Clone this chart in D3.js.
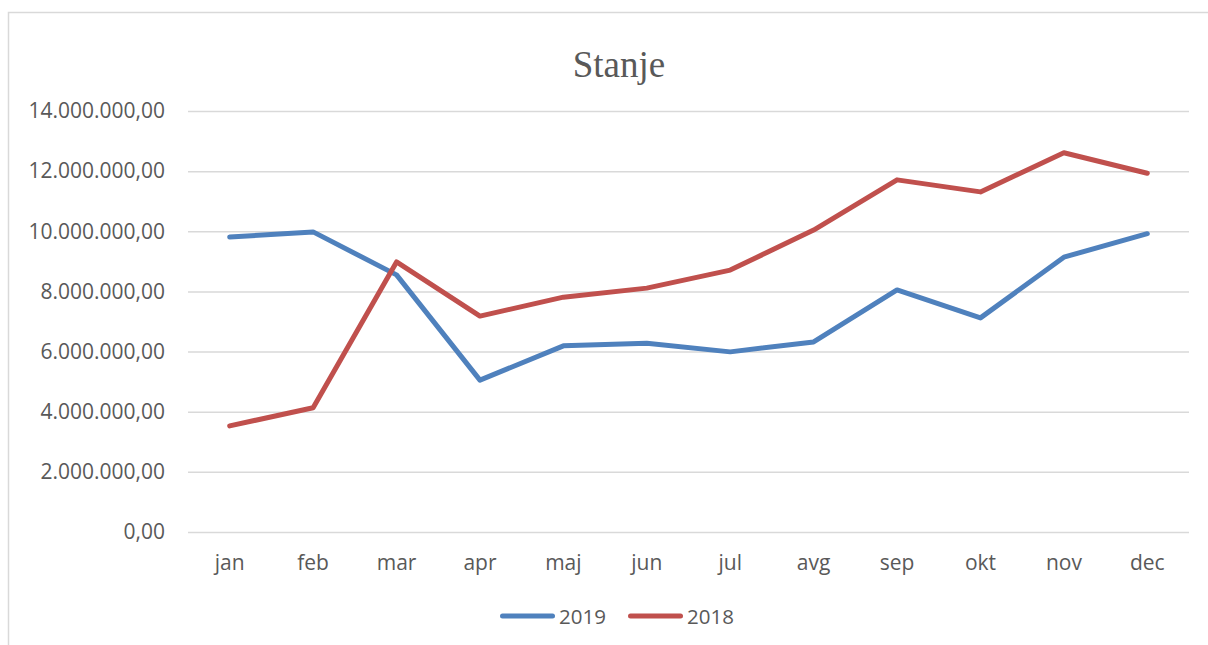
<!DOCTYPE html>
<html>
<head>
<meta charset="utf-8">
<script src="https://cdn.jsdelivr.net/npm/d3@7"></script>
<style>
  html, body { margin: 0; padding: 0; background: #fff; }
  svg { display: block; font-family: "Open Sans", "Noto Sans", sans-serif; }
</style>
</head>
<body>
<svg id="chart" width="1208" height="645"></svg>
<script>
// Monthly balance ("Stanje") for two years
const months = ["jan", "feb", "mar", "apr", "maj", "jun", "jul", "avg", "sep", "okt", "nov", "dec"];
const values2019 = [9810000, 9980000, 8550000, 5050000, 6190000, 6280000, 5990000, 6320000, 8050000, 7120000, 9140000, 9920000];
const values2018 = [3530000, 4130000, 8980000, 7180000, 7810000, 8110000, 8710000, 10040000, 11710000, 11310000, 12610000, 11930000];
const yTicks = [0, 2000000, 4000000, 6000000, 8000000, 10000000, 12000000, 14000000];
const seriesNames = ["2019", "2018"];
const seriesColors = ["#4f81bd", "#c0504d"];

const svg = d3.select("#chart");
const textColor = "#595959";

// chart frame
svg.append("rect")
  .attr("x", 8.5).attr("y", 12.5)
  .attr("width", 1300).attr("height", 700)
  .attr("fill", "none").attr("stroke", "#d9d9d9").attr("stroke-width", 1.5);

const plot = { left: 188, right: 1189, top: 111, bottom: 532 };

const x = d3.scaleBand().domain(months).range([plot.left, plot.right]);
const y = d3.scaleLinear().domain([0, 14000000]).range([plot.bottom, plot.top]);

// number format: 14.000.000,00
const locale = d3.formatLocale({ decimal: ",", thousands: ".", grouping: [3], currency: ["", ""] });
const fmt = locale.format(",.2f");

// gridlines + y labels
const yAxis = d3.axisLeft(y).tickValues(yTicks).tickSize(-(plot.right - plot.left)).tickPadding(23).tickFormat(fmt);
const gy = svg.append("g").attr("transform", `translate(${plot.left},0)`).call(yAxis);
gy.select(".domain").remove();
gy.selectAll(".tick line").attr("stroke", "#d9d9d9").attr("stroke-width", 1.5);
gy.selectAll(".tick text").attr("fill", textColor).attr("font-size", 21)
  .attr("font-family", "'Open Sans', sans-serif");

// x labels
const xAxis = d3.axisBottom(x).tickSize(0).tickPadding(23);
const gx = svg.append("g").attr("transform", `translate(0,${plot.bottom})`).call(xAxis);
gx.select(".domain").remove();
gx.selectAll(".tick text").attr("fill", textColor).attr("font-size", 21)
  .attr("font-family", "'Open Sans', sans-serif");

// title
svg.append("text").attr("x", 619).attr("y", 77).attr("text-anchor", "middle")
  .attr("fill", textColor).attr("font-size", 37)
  .attr("font-family", "'Liberation Serif', 'DejaVu Serif', serif")
  .text("Stanje");

// lines
const line = d3.line().x((d, i) => x(months[i]) + x.bandwidth() / 2).y(d => y(d));
[values2019, values2018].forEach((vals, k) => {
  svg.append("path").datum(vals)
    .attr("d", line)
    .attr("fill", "none")
    .attr("stroke", seriesColors[k])
    .attr("stroke-width", 5)
    .attr("stroke-linejoin", "round")
    .attr("stroke-linecap", "round");
});

// legend
const legendX = [500, 628];
seriesNames.forEach((name, k) => {
  const g = svg.append("g").attr("transform", `translate(${legendX[k]},616)`);
  g.append("line").attr("x1", 2.5).attr("x2", 52.5).attr("y1", 0).attr("y2", 0)
    .attr("stroke", seriesColors[k]).attr("stroke-width", 5).attr("stroke-linecap", "round");
  g.append("text").attr("x", 59).attr("y", 7.5).attr("fill", textColor)
    .attr("font-size", 20.5).text(name);
});
</script>
</body>
</html>
